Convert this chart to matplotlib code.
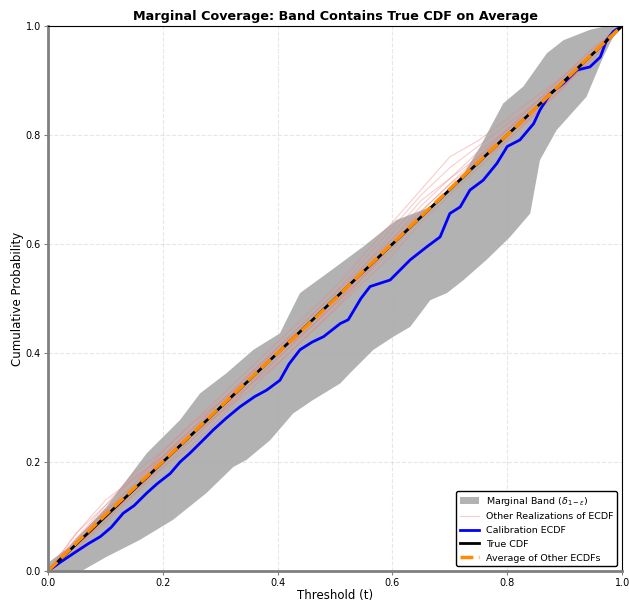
import numpy as np
import matplotlib.pyplot as plt

# marginal band edges (threshold, probability)
band_lo_t = [0.0, 0.05, 0.062, 0.102, 0.16, 0.218, 0.276, 0.323, 0.346, 0.387, 0.427, 0.462,
             0.509, 0.526, 0.567, 0.602, 0.631, 0.666, 0.695, 0.724, 0.764, 0.805, 0.84,
             0.857, 0.886, 0.938, 0.967, 0.991, 1.0]
band_lo_p = [0.0, 0.0, 0.002, 0.026, 0.057, 0.094, 0.143, 0.191, 0.204, 0.24, 0.289, 0.314,
             0.344, 0.363, 0.406, 0.43, 0.448, 0.497, 0.51, 0.534, 0.571, 0.613, 0.656,
             0.754, 0.809, 0.87, 0.943, 0.993, 1.0]
band_hi_t = [0.0, 0.038, 0.102, 0.172, 0.23, 0.265, 0.311, 0.358, 0.404, 0.42, 0.439, 0.486,
             0.549, 0.607, 0.666, 0.724, 0.753, 0.793, 0.828, 0.869, 0.898, 0.944, 0.973, 1.0]
band_hi_p = [0.015, 0.045, 0.118, 0.216, 0.277, 0.326, 0.363, 0.406, 0.436, 0.47, 0.51, 0.546,
             0.595, 0.644, 0.668, 0.729, 0.779, 0.858, 0.889, 0.95, 0.974, 0.993, 1.0, 1.0]

# calibration ecdf
calib_t = [0.0, 0.003, 0.02, 0.044, 0.07, 0.091, 0.11, 0.131, 0.15, 0.172, 0.19, 0.213, 0.23,
           0.247, 0.27, 0.288, 0.31, 0.334, 0.36, 0.381, 0.404, 0.42, 0.439, 0.46, 0.48, 0.509,
           0.523, 0.545, 0.561, 0.596, 0.631, 0.66, 0.683, 0.70, 0.718, 0.735, 0.758, 0.782,
           0.80, 0.822, 0.846, 0.857, 0.875, 0.898, 0.921, 0.944, 0.962, 0.973, 0.985, 0.999, 1.0]
calib_p = [0.0, 0.002, 0.015, 0.032, 0.05, 0.063, 0.08, 0.106, 0.12, 0.143, 0.16, 0.179, 0.2,
           0.216, 0.24, 0.259, 0.28, 0.301, 0.32, 0.332, 0.35, 0.38, 0.406, 0.42, 0.43, 0.454,
           0.461, 0.5, 0.522, 0.534, 0.571, 0.595, 0.613, 0.656, 0.668, 0.699, 0.717, 0.748,
           0.779, 0.791, 0.821, 0.846, 0.876, 0.895, 0.919, 0.925, 0.943, 0.974, 0.99, 1.0, 1.0]

# other realizations of the ecdf
real_t = [0, 0.05, 0.1, 0.15, 0.2, 0.25, 0.3, 0.35, 0.4, 0.45, 0.5, 0.55, 0.6, 0.65, 0.7,
          0.75, 0.8, 0.85, 0.9, 0.95, 1.0]
realizations = [
    [0, .07, .12, .17, .21, .26, .31, .36, .41, .46, .51, .57, .63, .69, .74, .78, .82, .86, .91, .96, 1],
    [0, .04, .09, .15, .19, .24, .29, .33, .38, .43, .48, .53, .58, .64, .69, .74, .79, .84, .89, .95, 1],
    [0, .06, .11, .16, .22, .27, .32, .37, .42, .47, .52, .58, .64, .70, .76, .79, .83, .87, .91, .96, 1],
    [0, .05, .10, .14, .19, .23, .28, .34, .39, .44, .49, .54, .60, .66, .71, .76, .80, .85, .90, .95, 1],
    [0, .06, .12, .18, .22, .27, .31, .35, .40, .45, .50, .56, .61, .66, .71, .75, .80, .85, .90, .94, 1],
    [0, .05, .09, .14, .20, .25, .30, .36, .41, .45, .50, .55, .61, .67, .72, .77, .81, .86, .91, .95, 1],
    [0, .07, .13, .17, .21, .25, .29, .34, .39, .44, .49, .55, .60, .65, .70, .75, .80, .84, .89, .94, 1],
    [0, .04, .10, .15, .21, .26, .31, .36, .40, .44, .49, .54, .59, .65, .70, .76, .81, .86, .90, .95, 1],
    [0, .06, .11, .15, .20, .24, .29, .35, .41, .46, .51, .56, .62, .68, .72, .76, .81, .85, .90, .95, 1],
    [0, .05, .11, .16, .21, .26, .30, .34, .38, .43, .48, .54, .60, .65, .70, .75, .79, .84, .89, .95, 1],
]
avg_p = [0, .052, .103, .152, .201, .251, .301, .351, .4, .449, .499, .551, .601, .651, .701,
         .751, .8, .85, .9, .951, 1]

true_t = [0.0, 1.0]
true_p = [0.0, 1.0]

fig = plt.figure(figsize=(6.29, 6.01), dpi=100)
ax = fig.add_axes([0.0763, 0.0499, 0.9127, 0.9068])

band_x = np.r_[band_hi_t, band_lo_t[::-1]]
band_y = np.r_[band_hi_p, band_lo_p[::-1]]
ax.fill(band_x, band_y, color='gray', alpha=0.6, lw=0, label=r'Marginal Band ($\delta_{1-\varepsilon}$)')

for i, r in enumerate(realizations):
    ax.plot(real_t, r, color='lightcoral', alpha=0.4, lw=0.8,
            label='Other Realizations of ECDF' if i == 0 else None)

ax.plot(calib_t, calib_p, color='blue', lw=2, label='Calibration ECDF')
ax.plot(true_t, true_p, color='black', lw=2, label='True CDF')
ax.plot(real_t, avg_p, color='darkorange', lw=2.5, ls='--', label='Average of Other ECDFs')

ax.set_xlim(0, 1)
ax.set_ylim(0, 1)
ax.grid(True, ls='--', alpha=0.3)
for side in ('left', 'bottom'):
    ax.spines[side].set_color('gray')
    ax.spines[side].set_linewidth(2)
ax.tick_params(labelsize=7, length=3, pad=2, color='gray')
ax.set_xlabel('Threshold (t)', fontsize=8.5, labelpad=0.5)
ax.set_ylabel('Cumulative Probability', fontsize=8.5, labelpad=1.5)
ax.set_title('Marginal Coverage: Band Contains True CDF on Average', fontsize=9.2,
             fontweight='bold', pad=4)
ax.legend(loc='lower right', fontsize=6.8, framealpha=1, edgecolor='black')

fig.savefig('out.png', dpi=100)
